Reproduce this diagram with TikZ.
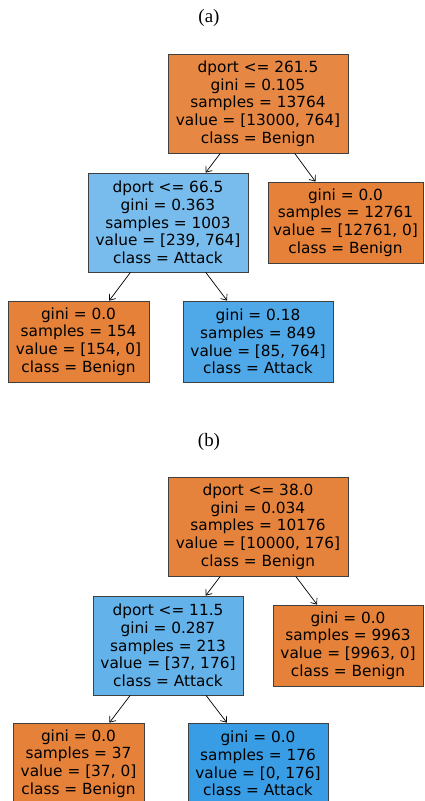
\documentclass[tikz,border=0pt]{standalone}
\usepackage{fontspec}
\setmainfont{DejaVu Sans}
\newfontfamily\titlefont{Liberation Serif}
\usetikzlibrary{arrows.meta}
\definecolor{orA}{HTML}{E58139}
\definecolor{orRootA}{HTML}{E68844}
\definecolor{orRootB}{HTML}{E5833C}
\definecolor{blLeftA}{HTML}{77BCED}
\definecolor{blLRA}{HTML}{4FA8E8}
\definecolor{blLeftB}{HTML}{63B2EA}
\definecolor{blPure}{HTML}{399DE5}
\tikzset{
  treebox/.style={draw=black!75, line width=0.8bp, rectangle, align=center, inner sep=0pt,
    font=\fontsize{15.4}{17.7}\selectfont},
  edgearrow/.style={-{Straight Barb[length=5bp,width=8bp]}, line width=0.7bp, black},
  subtitle/.style={font=\titlefont\fontsize{19}{22}\selectfont, inner sep=0pt}
}
\begin{document}
\begin{tikzpicture}[x=1bp,y=-1bp]
\useasboundingbox (0,0) rectangle (424,801);
% (a)
\node[subtitle] (ta) at (209,18) {(a)};
\node[treebox, fill=orRootA, minimum width=180bp, minimum height=99bp] (ra) at (258,103.5)
  {dport <= 261.5\\gini = 0.105\\samples = 13764\\value = [13000, 764]\\class = Benign};
\node[treebox, fill=blLeftA, minimum width=160bp, minimum height=99bp] (la) at (168,222.5)
  {dport <= 66.5\\gini = 0.363\\samples = 1003\\value = [239, 764]\\class = Attack};
\node[treebox, fill=orA, minimum width=155bp, minimum height=81bp] (rra) at (345.5,222.5)
  {gini = 0.0\\samples = 12761\\value = [12761, 0]\\class = Benign};
\node[treebox, fill=orA, minimum width=141bp, minimum height=81bp] (lla) at (78.5,341.5)
  {gini = 0.0\\samples = 154\\value = [154, 0]\\class = Benign};
\node[treebox, fill=blLRA, minimum width=150bp, minimum height=81bp] (lra) at (258,341.5)
  {gini = 0.18\\samples = 849\\value = [85, 764]\\class = Attack};
\draw[edgearrow] (ra) -- (la);
\draw[edgearrow] (ra) -- (rra);
\draw[edgearrow] (la) -- (lla);
\draw[edgearrow] (la) -- (lra);
% (b)
\node[subtitle] (tb) at (209,442) {(b)};
\node[treebox, fill=orRootB, minimum width=180bp, minimum height=99bp] (rb) at (258,526.5)
  {dport <= 38.0\\gini = 0.034\\samples = 10176\\value = [10000, 176]\\class = Benign};
\node[treebox, fill=blLeftB, minimum width=150bp, minimum height=99bp] (lb) at (168,645.5)
  {dport <= 11.5\\gini = 0.287\\samples = 213\\value = [37, 176]\\class = Attack};
\node[treebox, fill=orA, minimum width=150bp, minimum height=81bp] (rrb) at (348,645.5)
  {gini = 0.0\\samples = 9963\\value = [9963, 0]\\class = Benign};
\node[treebox, fill=orA, minimum width=131bp, minimum height=81bp] (llb) at (78.5,763.5)
  {gini = 0.0\\samples = 37\\value = [37, 0]\\class = Benign};
\node[treebox, fill=blPure, minimum width=140bp, minimum height=81bp] (lrb) at (258,763.5)
  {gini = 0.0\\samples = 176\\value = [0, 176]\\class = Attack};
\draw[edgearrow] (rb) -- (lb);
\draw[edgearrow] (rb) -- (rrb);
\draw[edgearrow] (lb) -- (llb);
\draw[edgearrow] (lb) -- (lrb);
\end{tikzpicture}
\end{document}
